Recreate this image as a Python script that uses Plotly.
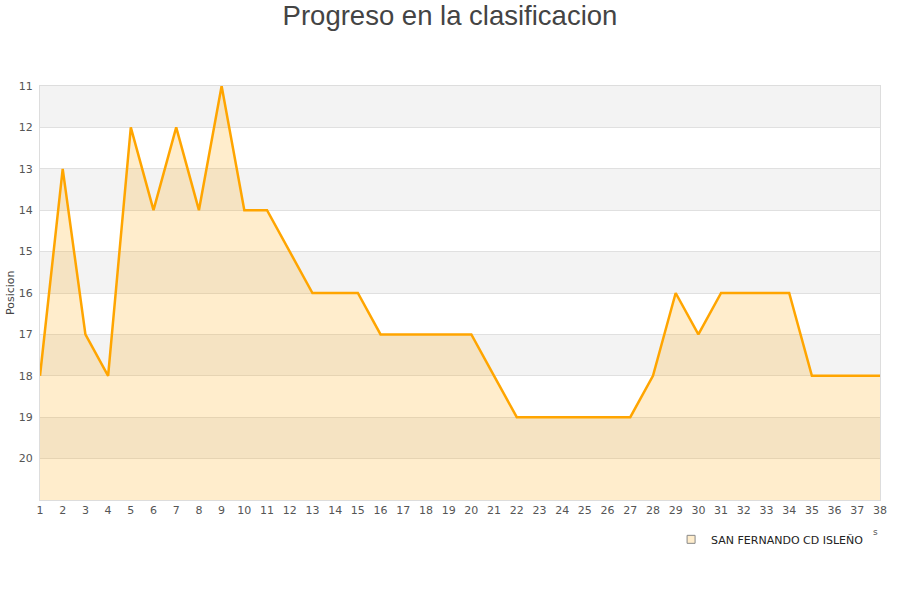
from plotly import graph_objects as go

jornadas = list(range(1, 39))
posiciones = [18, 13, 17, 18, 12, 14, 12, 14, 11, 14,
              14, 15, 16, 16, 16, 17, 17, 17, 17, 17,
              18, 19, 19, 19, 19, 19, 19, 18, 16, 17,
              16, 16, 16, 16, 18, 18, 18, 18]
equipo = "SAN FERNANDO CD ISLEÑO"
fondo = 21

fig = go.Figure()

# bandas alternas de fondo
for pos in range(11, 21, 2):
    fig.add_shape(type="rect", xref="paper", x0=0, x1=1, yref="y",
                  y0=pos, y1=pos + 1, fillcolor="#f3f3f3", line_width=0, layer="below")

fig.add_trace(go.Scatter(
    x=jornadas, y=[fondo] * len(jornadas), mode="lines",
    line=dict(width=0), showlegend=False, hoverinfo="skip"
))
fig.add_trace(go.Scatter(
    x=jornadas, y=posiciones, mode="lines", name=equipo,
    line=dict(color="#ffa500", width=2.5),
    fill="tonexty", fillcolor="rgba(255,165,0,0.2)",
    showlegend=False
))
# entrada de leyenda con cuadrado
fig.add_trace(go.Scatter(
    x=[None], y=[None], mode="markers", name=equipo,
    marker=dict(symbol="square", size=8, color="#ffedcc",
                line=dict(color="#888", width=1))
))

fig.update_layout(
    title=dict(text="Progreso en la clasificacion", x=0.5, xanchor="center",
               yref="container", y=0.975, yanchor="middle",
               font=dict(family="Liberation Sans", size=27.5, color="#444")),
    width=900, height=600,
    margin=dict(l=40, r=20, t=86, b=100),
    plot_bgcolor="white", paper_bgcolor="white",
    font=dict(family="DejaVu Sans", size=11, color="#555"),
    showlegend=True,
    legend=dict(x=0.987, xanchor="right", y=-0.06, yanchor="top",
                font=dict(size=11, color="#222"), bgcolor="rgba(0,0,0,0)"),
    xaxis=dict(range=[1, 38], tickmode="linear", dtick=1, showgrid=False,
               zeroline=False, showline=True, linecolor="#ddd", mirror=True,
               ticks="", automargin=False),
    yaxis=dict(range=[21, 11], tickvals=list(range(11, 21)), showgrid=True,
               gridcolor="#e0e0e0", zeroline=False, showline=True, linecolor="#ddd",
               mirror=True, automargin=False, ticklabelstandoff=4),
    annotations=[
        dict(text="Posicion", xref="paper", yref="paper", x=-0.0357, y=0.5,
             xanchor="center", yanchor="middle", textangle=-90, showarrow=False,
             font=dict(size=11, color="#444")),
        dict(text="s", xref="paper", yref="paper", x=1.0, y=-0.094,
             showarrow=False, font=dict(size=9, color="#555")),
    ],
)

fig.write_html("out.html", config={"displayModeBar": False},
               post_script="document.body.style.margin='0px';")
